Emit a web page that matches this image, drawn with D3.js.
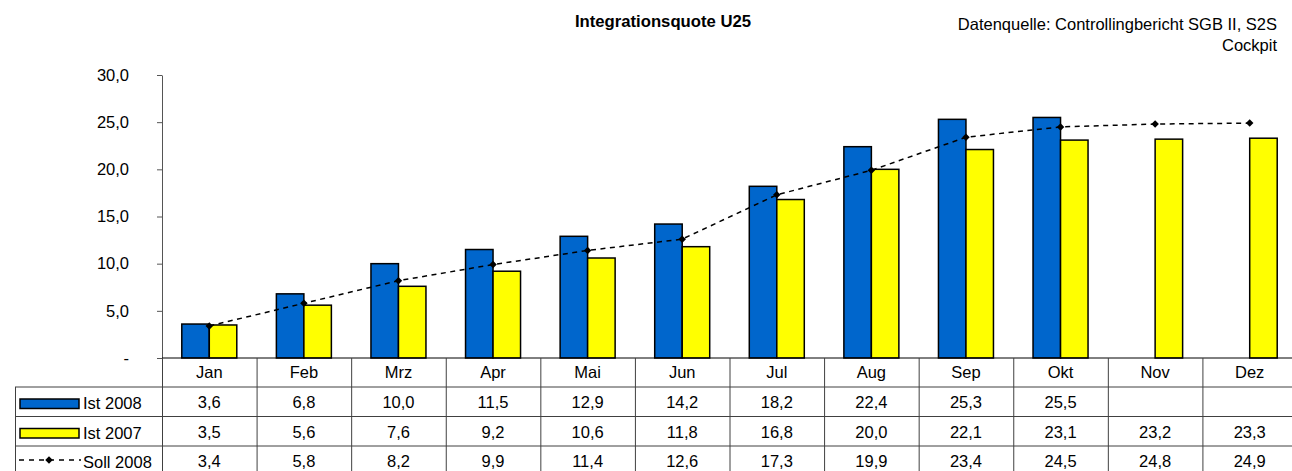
<!DOCTYPE html>
<html>
<head>
<meta charset="utf-8">
<script src="https://cdn.jsdelivr.net/npm/d3@7"></script>
<style>
  body { margin: 0; background: #fff; }
  text { font-family: Arial, "Liberation Sans", sans-serif; }
</style>
</head>
<body>
<script>
var width = 1292,
    height = 471;

var months = ['Jan','Feb','Mrz','Apr','Mai','Jun','Jul','Aug','Sep','Okt','Nov','Dez'];
var ist2008 = [3.6, 6.8, 10.0, 11.5, 12.9, 14.2, 18.2, 22.4, 25.3, 25.5, null, null];
var ist2007 = [3.5, 5.6, 7.6, 9.2, 10.6, 11.8, 16.8, 20.0, 22.1, 23.1, 23.2, 23.3];
var soll2008 = [3.4, 5.8, 8.2, 9.9, 11.4, 12.6, 17.3, 19.9, 23.4, 24.5, 24.8, 24.9];
var yTicks = [0, 5, 10, 15, 20, 25, 30];

var series = [
    {name: 'Ist 2008', values: ist2008, color: '#0066CC'},
    {name: 'Ist 2007', values: ist2007, color: '#FFFF00'}
];

var fs = '16.5px';

var svg = d3.select('body').append('svg')
    .attr('width', width)
    .attr('height', height);

var x = d3.scaleBand()
    .domain(months)
    .range([162, 1297]);

var xInner = d3.scaleBand()
    .domain(series.map(function (s) { return s.name; }))
    .range([0, 55]);

var y = d3.scaleLinear()
    .domain([0, 30])
    .range([358, 75]);

var fmt = function (v) {
    return v === 0 ? '-' : d3.format('.1f')(v).replace('.', ',');
};

// title + source
svg.append('text')
    .attr('x', 663).attr('y', 27)
    .attr('text-anchor', 'middle')
    .style('font-size', '16.7px').style('font-weight', 'bold')
    .text('Integrationsquote U25');

svg.append('text')
    .attr('x', 1277).attr('y', 30)
    .attr('text-anchor', 'end')
    .style('font-size', fs)
    .text('Datenquelle: Controllingbericht SGB II, S2S');
svg.append('text')
    .attr('x', 1277).attr('y', 51)
    .attr('text-anchor', 'end')
    .style('font-size', fs)
    .text('Cockpit');

// y axis
var yAxis = svg.append('g')
    .attr('transform', 'translate(162,0)')
    .call(d3.axisLeft(y).tickValues(yTicks).tickFormat(fmt).tickSize(5).tickSizeOuter(0).tickPadding(28));
yAxis.select('.domain').attr('stroke', '#555');
yAxis.selectAll('.tick line').attr('stroke', '#555');
yAxis.selectAll('.tick text').style('font-size', fs).attr('fill', '#000')
    .style('font-family', 'Arial, "Liberation Sans", sans-serif');

// bars
series.forEach(function (s) {
    svg.append('g').selectAll('rect')
        .data(s.values.map(function (v, i) { return {m: months[i], v: v}; })
            .filter(function (d) { return d.v !== null; }))
        .enter().append('rect')
        .attr('x', function (d) { return x(d.m) + x.bandwidth() / 2 - 27.5 + xInner(s.name); })
        .attr('y', function (d) { return y(d.v); })
        .attr('width', xInner.bandwidth())
        .attr('height', function (d) { return y(0) - y(d.v); })
        .attr('fill', s.color)
        .attr('stroke', '#000')
        .attr('stroke-width', 1.5);
});

// soll line
var line = d3.line()
    .x(function (d, i) { return x(months[i]) + x.bandwidth() / 2; })
    .y(function (d) { return y(d); });

svg.append('path')
    .datum(soll2008)
    .attr('d', line)
    .attr('fill', 'none')
    .attr('stroke', '#000')
    .attr('stroke-width', 1.5)
    .attr('stroke-dasharray', '5,4.5');

var diamond = d3.symbol().type(d3.symbolSquare).size(28);
svg.append('g').selectAll('path')
    .data(soll2008)
    .enter().append('path')
    .attr('d', diamond)
    .attr('transform', function (d, i) {
        return 'translate(' + (x(months[i]) + x.bandwidth() / 2) + ',' + y(d) + ') rotate(45)';
    })
    .attr('fill', '#000');

// x baseline
svg.append('line')
    .attr('x1', 162).attr('x2', width)
    .attr('y1', y(0)).attr('y2', y(0))
    .attr('stroke', '#000');

// data table
var rowTop = [358, 387, 416.5, 446];
var rowH = 29.5;
var table = svg.append('g');

// horizontal lines
[rowTop[1], rowTop[2], rowTop[3], rowTop[3] + rowH].forEach(function (yy) {
    table.append('line').attr('x1', 15).attr('x2', width).attr('y1', yy).attr('y2', yy).attr('stroke', '#404040');
});
// vertical lines
table.append('line').attr('x1', 15.5).attr('x2', 15.5).attr('y1', rowTop[1]).attr('y2', height + 5).attr('stroke', '#404040');
months.forEach(function (m) {
    table.append('line')
        .attr('x1', x(m) + 0.5).attr('x2', x(m) + 0.5)
        .attr('y1', rowTop[0]).attr('y2', height + 5)
        .attr('stroke', '#404040');
});

// month header
table.selectAll('.mlabel')
    .data(months)
    .enter().append('text')
    .attr('x', function (d) { return x(d) + x.bandwidth() / 2; })
    .attr('y', rowTop[0] + 20)
    .attr('text-anchor', 'middle')
    .style('font-size', fs)
    .text(function (d) { return d; });

var rows = [ist2008, ist2007, soll2008];
rows.forEach(function (vals, r) {
    table.append('g').selectAll('text')
        .data(vals)
        .enter().append('text')
        .attr('x', function (d, i) { return x(months[i]) + x.bandwidth() / 2; })
        .attr('y', rowTop[r + 1] + 21)
        .attr('text-anchor', 'middle')
        .style('font-size', fs)
        .text(function (d) { return d === null ? '' : fmt(d); });
});

// legend keys
series.forEach(function (s, r) {
    table.append('rect')
        .attr('x', 20).attr('y', rowTop[r + 1] + 12)
        .attr('width', 59).attr('height', 9.5)
        .attr('fill', s.color)
        .attr('stroke', '#000')
        .attr('stroke-width', 1.5);
    table.append('text')
        .attr('x', 83).attr('y', rowTop[r + 1] + 22)
        .style('font-size', fs)
        .text(s.name);
});
table.append('line')
    .attr('x1', 19).attr('x2', 81)
    .attr('y1', rowTop[3] + 14).attr('y2', rowTop[3] + 14)
    .attr('stroke', '#000').attr('stroke-width', 1.5)
    .attr('stroke-dasharray', '5,5');
table.append('path')
    .attr('d', diamond)
    .attr('transform', 'translate(49,' + (rowTop[3] + 14) + ') rotate(45)')
    .attr('fill', '#000');
table.append('text')
    .attr('x', 83).attr('y', rowTop[3] + 22)
    .style('font-size', fs)
    .text('Soll 2008');
</script>
</body>
</html>
